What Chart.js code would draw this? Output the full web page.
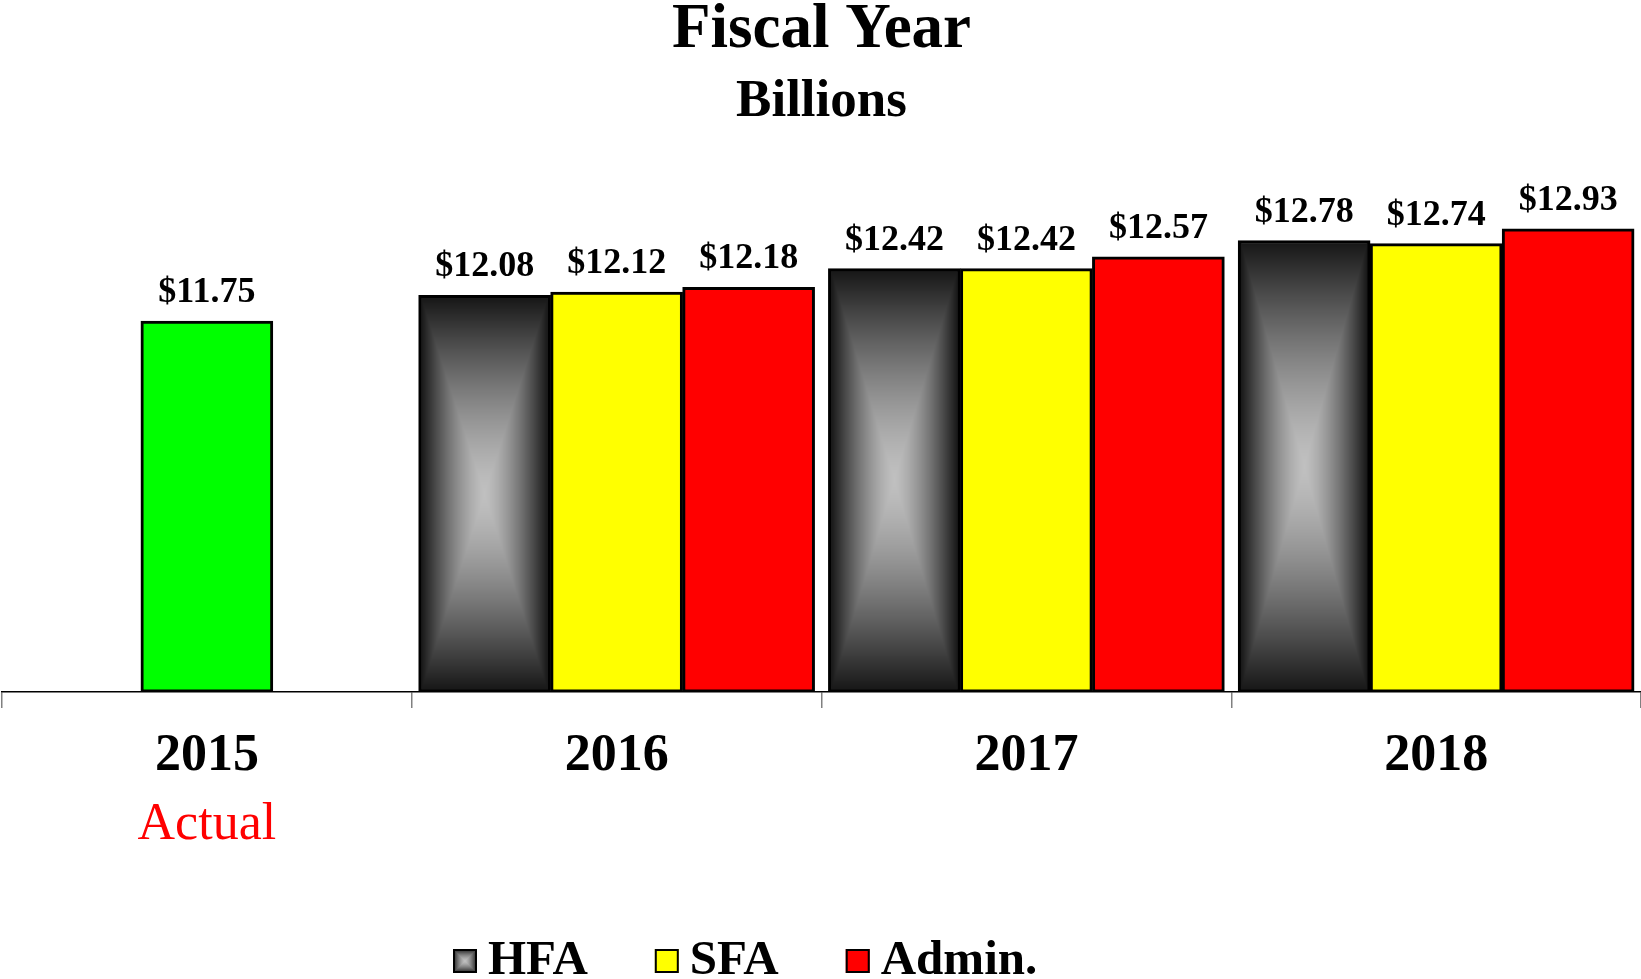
<!DOCTYPE html>
<html>
<head>
<meta charset="utf-8">
<title>Fiscal Year - Billions</title>
<script src="https://cdn.jsdelivr.net/npm/chart.js@4.4.0/dist/chart.umd.min.js"></script>
<style>
  html, body { margin: 0; padding: 0; background: #fff; }
  #wrap { width: 1641px; height: 979px; position: relative; }
</style>
</head>
<body>
<div id="wrap"><canvas id="fyChart"></canvas></div>
<script>
// data (billions)
const years = ["2015", "2016", "2017", "2018"];
const yearNotes = ["Actual", "", "", ""];
const actual = [11.75, null, null, null];
const hfa = [null, 12.08, 12.42, 12.78];
const sfa = [null, 12.12, 12.42, 12.74];
const admin = [null, 12.18, 12.57, 12.93];
const yMin = 7, yMax = 14;

const SERIF = '"Liberation Serif", "Times New Roman", Times, serif';
const BORDER = 3;

// rectangular "from center" gray fill, like the HFA bars
function hfaFill(w, h) {
  const c = document.createElement("canvas");
  c.width = Math.max(1, Math.round(w));
  c.height = Math.max(1, Math.round(h));
  const g = c.getContext("2d");
  const img = g.createImageData(c.width, c.height);
  const hw = c.width / 2, hh = c.height / 2;
  for (let y = 0; y < c.height; y++) {
    for (let x = 0; x < c.width; x++) {
      const t = Math.max(Math.abs(x + 0.5 - hw) / hw, Math.abs(y + 0.5 - hh) / hh);
      const v = Math.round(192 - 168 * Math.pow(t, 1.4));
      const i = (y * c.width + x) * 4;
      img.data[i] = img.data[i + 1] = img.data[i + 2] = v;
      img.data[i + 3] = 255;
    }
  }
  g.putImageData(img, 0, 0);
  return c;
}

// paint the gradient into the HFA bars after the library has placed them
const hfaPlugin = {
  id: "hfaPlugin",
  afterDatasetDraw(chart, args) {
    if (chart.data.datasets[args.index].label !== "HFA") return;
    const ctx = chart.ctx;
    args.meta.data.forEach((el, i) => {
      if (hfa[i] == null) return;
      const p = el.getProps(["x", "y", "base", "width"], true);
      const left = p.x - p.width / 2 + BORDER;
      const top = Math.min(p.y, p.base) + BORDER;
      const w = p.width - BORDER * 2;
      const h = Math.abs(p.base - p.y) - BORDER * 2;
      ctx.drawImage(hfaFill(w, h), left, top, w, h);
    });
  }
};

// "$12.08" style labels above each bar
const valueLabels = {
  id: "valueLabels",
  afterDatasetsDraw(chart) {
    const ctx = chart.ctx;
    ctx.save();
    ctx.font = "bold 36px " + SERIF;
    ctx.fillStyle = "#000";
    ctx.textAlign = "center";
    ctx.textBaseline = "alphabetic";
    chart.data.datasets.forEach((ds, di) => {
      const meta = chart.getDatasetMeta(di);
      meta.data.forEach((el, i) => {
        const v = ds.data[i];
        if (v == null) return;
        ctx.fillText("$" + v.toFixed(2), el.x, el.y - 19);
      });
    });
    ctx.restore();
  }
};

// red "Actual" line under the 2015 tick, plus the legend row
const extras = {
  id: "extras",
  afterDraw(chart) {
    const ctx = chart.ctx;
    const xs = chart.scales.x;
    ctx.save();
    ctx.font = "52px " + SERIF;
    ctx.fillStyle = "#ff0000";
    ctx.textAlign = "center";
    ctx.textBaseline = "middle";
    yearNotes.forEach((note, i) => {
      if (note) ctx.fillText(note, xs.getPixelForTick(i), xs.top + 16 + 17 + 31 + 69);
    });

    // legend
    ctx.font = "bold 49px " + SERIF;
    ctx.textAlign = "left";
    ctx.fillStyle = "#000";
    const box = 24, gap = 11, spacing = 67;
    const cy = 961;
    let x = 453;
    chart.data.datasets.filter(ds => ds.label !== "Actual").forEach(ds => {
      const top = cy - box / 2;
      if (ds.label === "HFA") {
        ctx.drawImage(hfaFill(box, box), x, top, box, box);
      } else {
        ctx.fillStyle = ds.backgroundColor;
        ctx.fillRect(x, top, box, box);
      }
      ctx.lineWidth = 2;
      ctx.strokeStyle = "#000";
      ctx.strokeRect(x + 1, top + 1, box - 2, box - 2);
      ctx.fillStyle = "#000";
      ctx.fillText(ds.label, x + box + gap, cy);
      x += box + gap + ctx.measureText(ds.label).width + spacing;
    });
    ctx.restore();
  }
};

const barCommon = {
  borderColor: "#000",
  borderWidth: BORDER,
  borderSkipped: false,
  barThickness: 132,
  skipNull: true,
  base: yMin
};

new Chart(document.getElementById("fyChart"), {
  type: "bar",
  data: {
    labels: years,
    datasets: [
      { label: "Actual", data: actual, backgroundColor: "#00ff00", ...barCommon },
      { label: "HFA", data: hfa, backgroundColor: "#1c1c1c", ...barCommon },
      { label: "SFA", data: sfa, backgroundColor: "#ffff00", ...barCommon },
      { label: "Admin.", data: admin, backgroundColor: "#ff0000", ...barCommon }
    ]
  },
  options: {
    responsive: true,
    maintainAspectRatio: false,
    animation: false,
    devicePixelRatio: 1,
    layout: { padding: { left: 2, right: 0, top: 2, bottom: 174.5 } },
    plugins: {
      legend: { display: false },
      tooltip: { enabled: false },
      title: {
        display: true,
        text: "Fiscal Year",
        color: "#000",
        font: { family: SERIF, size: 63, weight: "bold", lineHeight: 0.9 },
        padding: { top: 0, bottom: 17 }
      },
      subtitle: {
        display: true,
        text: "Billions",
        color: "#000",
        font: { family: SERIF, size: 53, weight: "bold", lineHeight: 1 },
        padding: { top: 0, bottom: 16.5 }
      }
    },
    scales: {
      x: {
        offset: true,
        grid: {
          offset: true,
          drawOnChartArea: false,
          tickLength: 16,
          color: "#808080",
          lineWidth: 1.5
        },
        border: { color: "#000", width: 1.5 },
        ticks: {
          color: "#000",
          padding: 17,
          font: { family: SERIF, size: 52, weight: "bold", lineHeight: 1.2 }
        }
      },
      y: {
        display: false,
        min: yMin,
        max: yMax
      }
    }
  },
  plugins: [hfaPlugin, valueLabels, extras]
});
</script>
</body>
</html>
